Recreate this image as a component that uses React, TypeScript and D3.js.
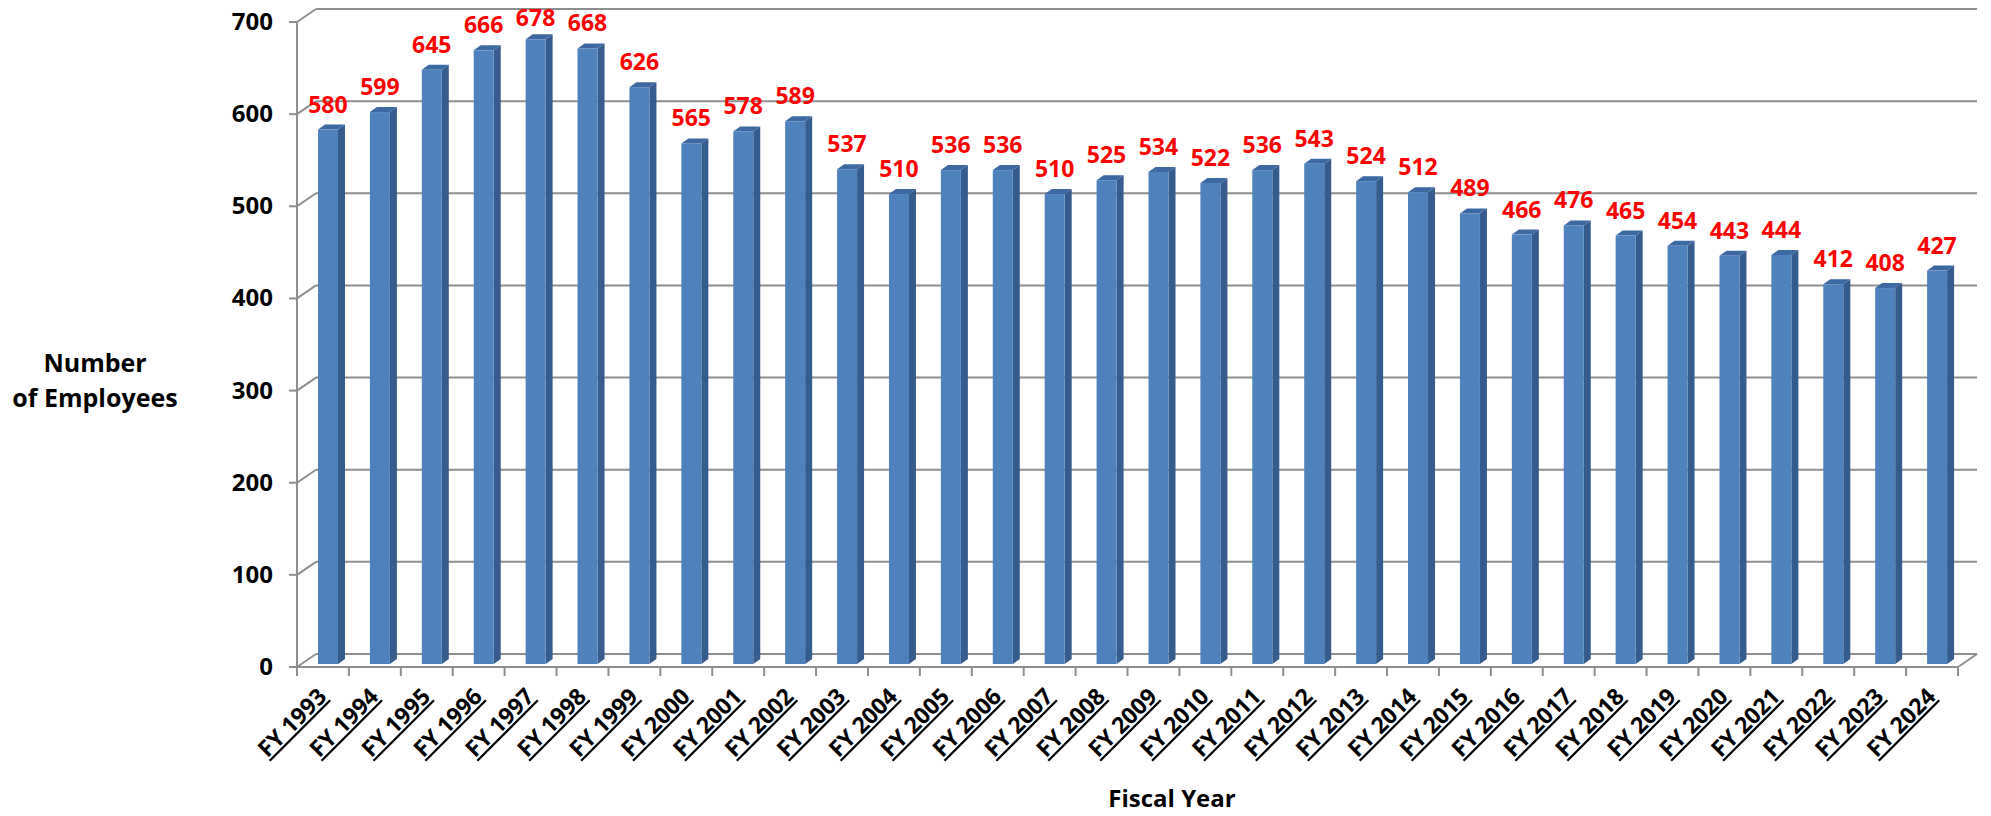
import React, { useEffect, useRef } from 'react';
import * as d3 from 'd3';

const years = [
  'FY 1993', 'FY 1994', 'FY 1995', 'FY 1996', 'FY 1997', 'FY 1998', 'FY 1999', 'FY 2000',
  'FY 2001', 'FY 2002', 'FY 2003', 'FY 2004', 'FY 2005', 'FY 2006', 'FY 2007', 'FY 2008',
  'FY 2009', 'FY 2010', 'FY 2011', 'FY 2012', 'FY 2013', 'FY 2014', 'FY 2015', 'FY 2016',
  'FY 2017', 'FY 2018', 'FY 2019', 'FY 2020', 'FY 2021', 'FY 2022', 'FY 2023', 'FY 2024',
];
const employees = [
  580, 599, 645, 666, 678, 668, 626, 565,
  578, 589, 537, 510, 536, 536, 510, 525,
  534, 522, 536, 543, 524, 512, 489, 466,
  476, 465, 454, 443, 444, 412, 408, 427,
];
const yTicks = [0, 100, 200, 300, 400, 500, 600, 700];

const FONT = '"Open Sans", Carlito, Calibri, sans-serif';

const App: React.FC = () => {
  const svgRef = useRef<SVGSVGElement>(null);

  useEffect(() => {
    if (!svgRef.current) return;
    const svg = d3.select(svgRef.current);
    svg.selectAll('*').remove();

    const W = 1991;
    const H = 816;
    const left = 297;
    const right = 1958;
    const floorY = 667;
    const topY = 22;
    const depth = { dx: 19, dy: -13 };

    const x = d3.scaleBand<string>().domain(years).range([left, right]).paddingInner(0);
    const y = d3.scaleLinear().domain([0, 700]).range([floorY, topY]);

    const grid = '#8e8e8e';

    svg.append('rect').attr('width', W).attr('height', H).attr('fill', '#fff');

    // back wall gridlines, side wall diagonals, tick marks and labels
    const g = svg.append('g');
    yTicks.forEach(t => {
      const yy = y(t);
      g.append('line')
        .attr('x1', left + depth.dx).attr('x2', right + depth.dx)
        .attr('y1', yy + depth.dy).attr('y2', yy + depth.dy)
        .attr('stroke', grid).attr('stroke-width', 2);
      g.append('line')
        .attr('x1', left).attr('x2', left + depth.dx)
        .attr('y1', yy).attr('y2', yy + depth.dy)
        .attr('stroke', grid).attr('stroke-width', 2);
      g.append('line')
        .attr('x1', left - 8).attr('x2', left)
        .attr('y1', yy).attr('y2', yy)
        .attr('stroke', grid).attr('stroke-width', 2);
      g.append('text')
        .attr('x', 273).attr('y', yy + 8)
        .attr('text-anchor', 'end')
        .attr('font-family', FONT).attr('font-weight', 700).attr('font-size', 24)
        .attr('fill', '#000')
        .text(String(t));
    });

    // left axis line
    g.append('line')
      .attr('x1', left).attr('x2', left).attr('y1', topY).attr('y2', floorY)
      .attr('stroke', grid).attr('stroke-width', 2);

    // floor front edge + right diagonal
    g.append('line')
      .attr('x1', left).attr('x2', right).attr('y1', floorY).attr('y2', floorY)
      .attr('stroke', grid).attr('stroke-width', 2);
    g.append('line')
      .attr('x1', right).attr('x2', right + depth.dx).attr('y1', floorY).attr('y2', floorY + depth.dy)
      .attr('stroke', grid).attr('stroke-width', 2);

    // category ticks
    const bounds = years.map(d => x(d) as number).concat([right]);
    bounds.forEach(bx => {
      g.append('line')
        .attr('x1', bx).attr('x2', bx).attr('y1', floorY).attr('y2', floorY + 9)
        .attr('stroke', grid).attr('stroke-width', 2);
    });

    // bars
    const bw = 20;
    const off = 21;
    const side = { dx: 7, dy: -5 };
    const base = floorY - 3;
    const by = (v: number) => y(v) - 3;

    const bars = svg.append('g').selectAll('g').data(years).enter().append('g');
    bars.each(function (d, i) {
      const sel = d3.select(this);
      const x0 = (x(d) as number) + off;
      const x1 = x0 + bw;
      const top = by(employees[i]);
      sel.append('polygon')
        .attr('points', [[x1, base], [x1 + side.dx, base + side.dy], [x1 + side.dx, top + side.dy], [x1, top]].map(p => p.join(',')).join(' '))
        .attr('fill', '#355c8c');
      sel.append('polygon')
        .attr('points', [[x0, top], [x1, top], [x1 + side.dx, top + side.dy], [x0 + side.dx, top + side.dy]].map(p => p.join(',')).join(' '))
        .attr('fill', '#3d69a3');
      sel.append('rect')
        .attr('x', x0).attr('y', top).attr('width', bw).attr('height', base - top)
        .attr('fill', '#4f81bd');
      sel.append('text')
        .attr('x', (x(d) as number) + x.bandwidth() / 2 + 5)
        .attr('y', Math.max(top - 17, 26))
        .attr('text-anchor', 'middle')
        .attr('font-family', FONT).attr('font-weight', 700).attr('font-size', 23)
        .attr('fill', '#ff0000')
        .text(String(employees[i]));
    });

    // x tick labels
    svg.append('g').selectAll('text').data(years).enter().append('text')
      .attr('transform', d => `translate(${(x(d) as number) + x.bandwidth() / 2 + 5},${floorY + 31}) rotate(-45)`)
      .attr('text-anchor', 'end')
      .attr('font-family', FONT).attr('font-weight', 700).attr('font-size', 23)
      .attr('text-decoration', 'underline')
      .attr('fill', '#000')
      .text(d => d);

    // axis titles
    const yt = svg.append('text')
      .attr('text-anchor', 'middle')
      .attr('font-family', FONT).attr('font-weight', 700).attr('font-size', 25)
      .attr('fill', '#000');
    yt.append('tspan').attr('x', 95).attr('y', 372).text('Number');
    yt.append('tspan').attr('x', 95).attr('y', 407).text('of Employees');

    svg.append('text')
      .attr('x', 1172).attr('y', 807)
      .attr('text-anchor', 'middle')
      .attr('font-family', FONT).attr('font-weight', 700).attr('font-size', 24)
      .attr('fill', '#000')
      .text('Fiscal Year');
  }, []);

  return (
    <svg
      ref={svgRef}
      width={1991}
      height={816}
      viewBox="0 0 1991 816"
      style={{ position: 'absolute', left: 0, top: 0, display: 'block' }}
    />
  );
};

export default App;
